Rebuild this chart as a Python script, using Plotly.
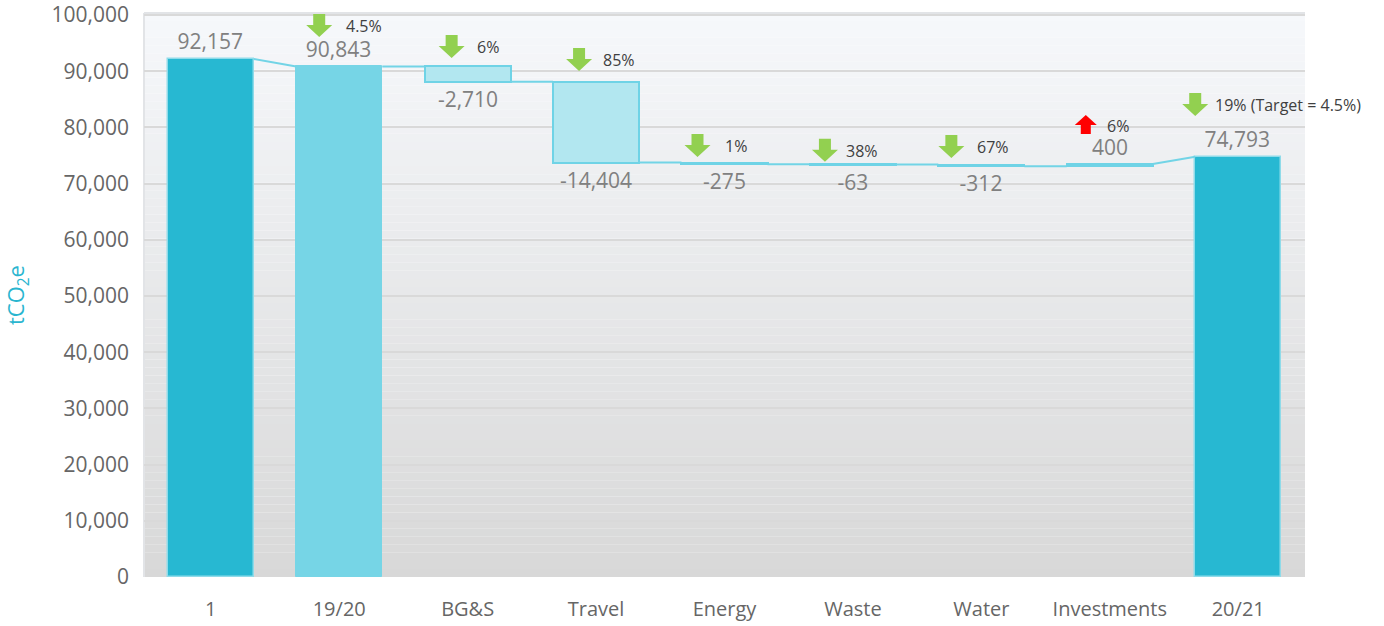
import plotly.graph_objects as go

# ---------------- data ----------------
categories = ["1", "19/20", "BG&S", "Travel", "Energy", "Waste", "Water", "Investments", "20/21"]
values = [92157, 90843, -2710, -14404, -275, -63, -312, 400, 74793]
measures = ["total", "absolute", "relative", "relative", "relative", "relative", "relative", "relative", "total"]
change_labels = ["", "4.5%", "6%", "85%", "1%", "38%", "67%", "6%", "19% (Target = 4.5%)"]
change_dirs = ["", "down", "down", "down", "down", "down", "down", "up", "down"]

# ---------------- layout / style ----------------
FONT = "Open Sans"
BAR_W = 0.67
C_TOTAL = "#27b8d2"
C_ABS = "#76d5e6"
C_REL = "#b2e7f0"
C_EDGE = "#6fd3e6"
C_LINE = "#72d4e6"
GREEN = "#92d050"
RED = "#ff0000"

# pixel offsets of the arrow markers relative to the top of each bar
arrow_dx = [0, -20, -16, -17, -27, -28, -30, -24, -43]
arrow_dy = [0, 29.5, 8.5, 10.7, 5.6, 2.5, 6.5, 30, 40.7]
label_dx = [0, 5, 7, 5, -2, -9, -6, -5, -25]

# compute bar bases / heights
bases, heights, starts, ends = [], [], [], []
level = 0
for v, m in zip(values, measures):
    if m in ("total", "absolute"):
        bases.append(0)
        heights.append(v)
        starts.append(v)
        ends.append(v)
        level = v
    else:
        bases.append(level)
        heights.append(v)
        starts.append(level)
        level = level + v
        ends.append(level)

tops = [max(b, b + h) for b, h in zip(bases, heights)]
xs = list(range(len(categories)))

fill_colors = []
line_colors = []
line_widths = []
for m in measures:
    if m == "total":
        fill_colors.append(C_TOTAL); line_colors.append("#8fdbe9"); line_widths.append(1.5)
    elif m == "absolute":
        fill_colors.append(C_ABS); line_colors.append(C_ABS); line_widths.append(1)
    else:
        fill_colors.append(C_REL); line_colors.append(C_EDGE); line_widths.append(2)

texts = [f"{v:,}" for v in values]

fig = go.Figure()

fig.add_trace(go.Bar(
    x=xs, y=heights, base=bases, width=BAR_W,
    marker=dict(color=fill_colors, line=dict(color=line_colors, width=line_widths)),
    text=texts, textposition="outside", constraintext="none", cliponaxis=False,
    textfont=dict(family=FONT, size=21, color="#808080"),
    hoverinfo="skip", showlegend=False,
))

# connectors
cx, cy = [], []
for i in range(len(xs) - 1):
    cx += [xs[i] + BAR_W / 2, xs[i + 1] - BAR_W / 2, None]
    cy += [ends[i], starts[i + 1], None]
fig.add_trace(go.Scatter(x=cx, y=cy, mode="lines", line=dict(color=C_LINE, width=2),
                         hoverinfo="skip", showlegend=False, cliponaxis=False))

shapes = []
# gradient background
N = 70
top_rgb = (246, 248, 251)
bot_rgb = (216, 216, 216)
for k in range(N):
    t = (k + 0.5) / N
    col = tuple(round(bot_rgb[j] + (top_rgb[j] - bot_rgb[j]) * t) for j in range(3))
    shapes.append(dict(type="rect", xref="paper", yref="paper", x0=0, x1=1,
                       y0=k / N, y1=(k + 1) / N, fillcolor="rgb(%d,%d,%d)" % col,
                       line=dict(width=0), layer="below"))
# plot border (top + left)
shapes.append(dict(type="line", xref="paper", yref="paper", x0=0, x1=1, y0=1, y1=1,
                   line=dict(color="#e2e4e7", width=2), layer="below"))
shapes.append(dict(type="line", xref="paper", yref="paper", x0=0, x1=0, y0=0, y1=1,
                   line=dict(color="#e2e4e7", width=2), layer="below"))

annotations = []
for i, (lab, d) in enumerate(zip(change_labels, change_dirs)):
    if not d:
        continue
    ax = arrow_dx[i]
    ay = arrow_dy[i]
    if d == "down":
        pts = [(0, 0), (-13, 12), (-6, 12), (-6, 23), (6, 23), (6, 12), (13, 12)]
        col = GREEN
        text_y = ay + 11
    else:
        pts = [(-5, 0), (5, 0), (5, 9), (11, 9), (0, 19), (-11, 9), (-5, 9)]
        col = RED
        text_y = ay + 8
    path = "M " + " L ".join(f"{ax + px},{ay + py}" for px, py in pts) + " Z"
    shapes.append(dict(type="path", xref="x", yref="y", xsizemode="pixel", ysizemode="pixel",
                       xanchor=xs[i], yanchor=tops[i], path=path, fillcolor=col,
                       line=dict(width=0), layer="above"))
    annotations.append(dict(x=xs[i], y=tops[i], xref="x", yref="y", text=lab, showarrow=False,
                            xanchor="left", yanchor="middle", xshift=label_dx[i], yshift=text_y,
                            font=dict(family=FONT, size=16, color="#404040")))

annotations.append(dict(x=0, y=0.5, xref="paper", yref="paper", text="tCO<sub>2</sub>e",
                        showarrow=False, textangle=-90, xanchor="center", yanchor="middle",
                        xshift=-127, font=dict(family=FONT, size=22, color="#29b5cf")))

fig.update_layout(
    width=1384, height=626,
    margin=dict(l=144, r=79, t=13, b=49, autoexpand=False),
    paper_bgcolor="white", plot_bgcolor="rgba(0,0,0,0)",
    font=dict(family=FONT),
    shapes=shapes, annotations=annotations,
    bargap=0, showlegend=False,
    xaxis=dict(range=[-0.52, 8.52], tickmode="array", tickvals=xs, ticktext=categories,
               showgrid=False, zeroline=False, showline=False, ticks="",
               ticklabelstandoff=18, automargin=False,
               tickfont=dict(family=FONT, size=20, color="#666666")),
    yaxis=dict(range=[0, 100350], tickmode="array",
               tickvals=[0, 10000, 20000, 30000, 40000, 50000, 60000, 70000, 80000, 90000, 100000],
               tickformat=",", showgrid=True,
               gridcolor="#d9d9d9", gridwidth=1.5, zeroline=False, showline=False,
               ticks="", ticklabelstandoff=14, automargin=False,
               tickfont=dict(family=FONT, size=21, color="#666666")),
)

fig.write_html("out.html")
